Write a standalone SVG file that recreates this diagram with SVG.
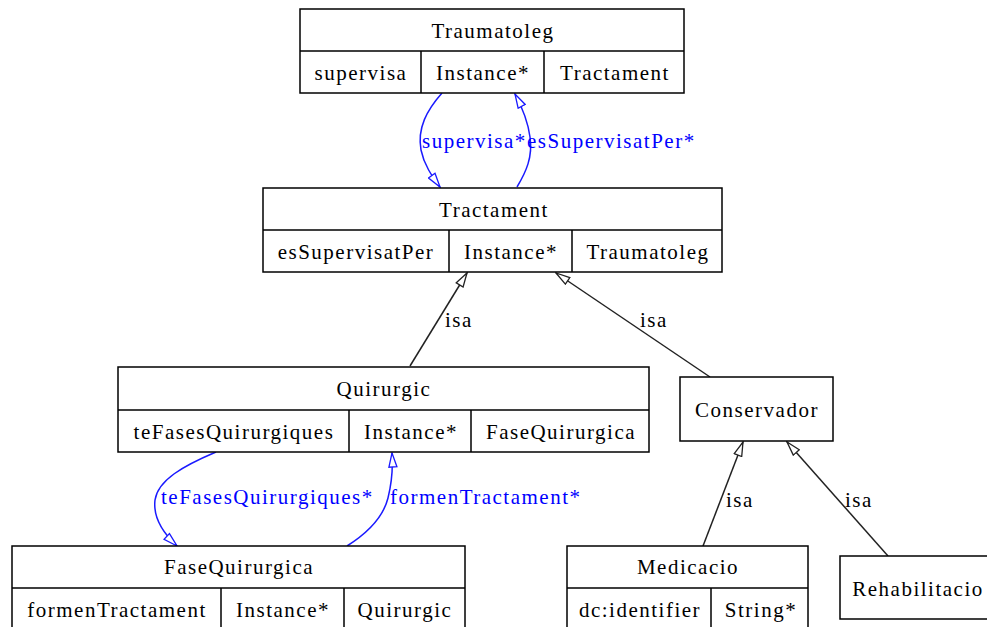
<svg xmlns="http://www.w3.org/2000/svg" width="987" height="627" viewBox="0 0 987 627">
  <style>
    text { font-family: "Liberation Serif", "Times New Roman", serif; font-size: 21px; letter-spacing: 1.5px; fill: #000; }
    .c { text-anchor: middle; }
    .box { fill: #fff; stroke: #000; stroke-width: 1.5; }
    .sep { stroke: #000; stroke-width: 1.5; fill: none; }
    .isa { stroke: #222; stroke-width: 1.5; fill: none; marker-end: url(#openDark); }
    .rel { stroke: #1a1aff; stroke-width: 1.5; fill: none; marker-end: url(#openBlue); }
    .lbl-blue { fill: #0000ff; }
  </style>
  <defs>
    <marker id="openDark" viewBox="0 0 16 10" refX="15" refY="5" markerWidth="16" markerHeight="10" markerUnits="userSpaceOnUse" orient="auto">
      <path d="M1,1 L15,5 L1,9 Z" fill="#fff" stroke="#222" stroke-width="1.3"/>
    </marker>
    <marker id="openBlue" viewBox="0 0 16 10" refX="15" refY="5" markerWidth="16" markerHeight="10" markerUnits="userSpaceOnUse" orient="auto">
      <path d="M1,1 L15,5 L1,9 Z" fill="#fff" stroke="#1a1aff" stroke-width="1.3"/>
    </marker>
  </defs>
  <rect width="987" height="627" fill="#fff"/>

  <!-- connectors -->
  <g id="edges">
    <path class="rel" d="M442,93 C427,110 417,128 421,150 C424,165 432,176 440,187"/>
    <path class="rel" d="M517,187 C526,172 533,157 530,137 C528,122 522,107 515,94"/>
    <path class="isa" d="M410,366 L467,273"/>
    <path class="isa" d="M710,377 L556,273"/>
    <path class="rel" d="M216,452 C183,466 158,480 155,500 C153,517 163,533 177,546"/>
    <path class="rel" d="M347,546 C366,534 383,518 388,498 C392,482 393,468 392,453"/>
    <path class="isa" d="M703,546 L743,442"/>
    <path class="isa" d="M888,556 L787,442"/>
    <text class="lbl-blue" x="422" y="148">supervisa*</text>
    <text class="lbl-blue" x="527" y="148">esSupervisatPer*</text>
    <text x="445" y="327">isa</text>
    <text x="640" y="327">isa</text>
    <text class="lbl-blue" x="161" y="504">teFasesQuirurgiques*</text>
    <text class="lbl-blue" x="390" y="504">formenTractament*</text>
    <text x="726" y="507">isa</text>
    <text x="845" y="507">isa</text>
  </g>

  <g id="Traumatoleg">
    <rect class="box" x="300" y="9" width="384" height="84"/>
    <path class="sep" d="M300,51 H684 M421,51 V93 M544,51 V93"/>
    <text class="c" x="493" y="38">Traumatoleg</text>
    <text class="c" x="361" y="80">supervisa</text>
    <text class="c" x="483" y="80">Instance*</text>
    <text class="c" x="615" y="80">Tractament</text>
  </g>

  <g id="Tractament">
    <rect class="box" x="263" y="188" width="459" height="84"/>
    <path class="sep" d="M263,230 H722 M449,230 V272 M572,230 V272"/>
    <text class="c" x="494" y="217">Tractament</text>
    <text class="c" x="356" y="259">esSupervisatPer</text>
    <text class="c" x="511" y="259">Instance*</text>
    <text class="c" x="648" y="259">Traumatoleg</text>
  </g>

  <g id="Quirurgic">
    <rect class="box" x="118" y="367" width="531" height="85"/>
    <path class="sep" d="M118,410 H649 M349,410 V452 M471,410 V452"/>
    <text class="c" x="384" y="396">Quirurgic</text>
    <text class="c" x="234" y="439">teFasesQuirurgiques</text>
    <text class="c" x="411" y="439">Instance*</text>
    <text class="c" x="561" y="439">FaseQuirurgica</text>
  </g>

  <g id="Conservador">
    <rect class="box" x="680" y="377" width="153" height="64"/>
    <text class="c" x="757" y="417">Conservador</text>
  </g>

  <g id="FaseQuirurgica">
    <rect class="box" x="12" y="546" width="453" height="86"/>
    <path class="sep" d="M12,588 H465 M221,588 V632 M344,588 V632"/>
    <text class="c" x="239" y="574">FaseQuirurgica</text>
    <text class="c" x="117" y="617">formenTractament</text>
    <text class="c" x="283" y="617">Instance*</text>
    <text class="c" x="405" y="617">Quirurgic</text>
  </g>

  <g id="Medicacio">
    <rect class="box" x="567" y="546" width="241" height="86"/>
    <path class="sep" d="M567,588 H808 M711,588 V632"/>
    <text class="c" x="688" y="574">Medicacio</text>
    <text class="c" x="640" y="617">dc:identifier</text>
    <text class="c" x="761" y="617">String*</text>
  </g>

  <g id="Rehabilitacio">
    <rect class="box" x="840" y="556" width="155" height="63"/>
    <text class="c" x="918" y="596">Rehabilitacio</text>
  </g>
</svg>
